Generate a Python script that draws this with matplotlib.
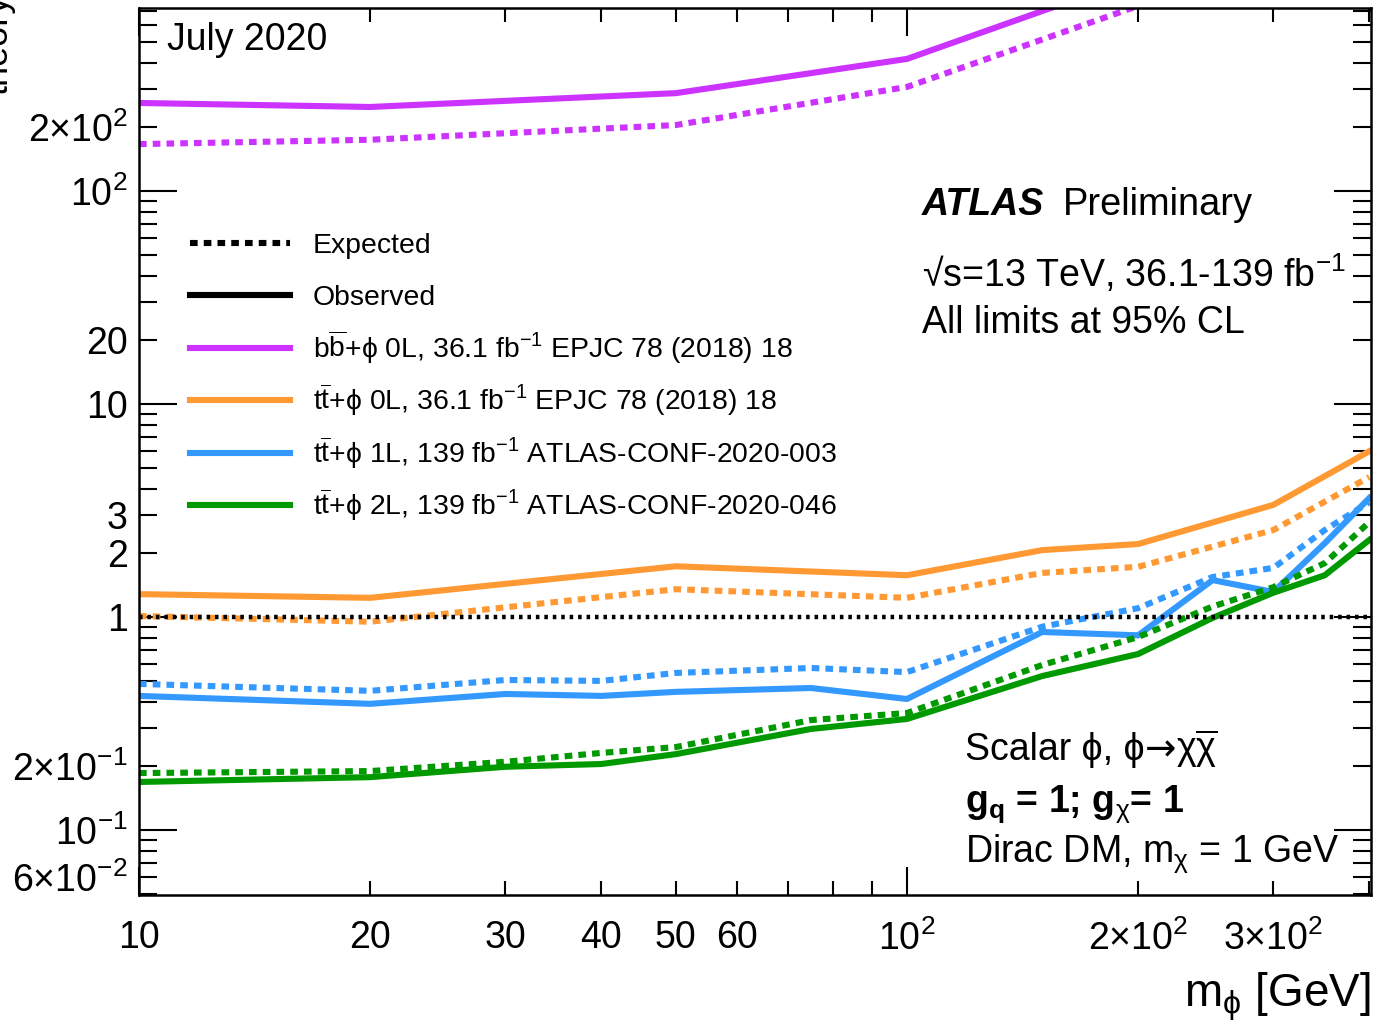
import matplotlib.pyplot as plt
from matplotlib.lines import Line2D
from matplotlib.ticker import FuncFormatter, LogLocator

plt.rcParams["font.family"] = ["Liberation Sans", "DejaVu Sans"]
plt.rcParams["mathtext.fontset"] = "custom"
plt.rcParams["mathtext.rm"] = "Liberation Sans"
plt.rcParams["mathtext.it"] = "Liberation Sans:italic"
plt.rcParams["mathtext.bf"] = "Liberation Sans:bold"

# bb+phi 0L (36.1 fb-1)
m_bb = [10, 20, 50, 100, 200, 300]
bb_obs = [259, 248, 288, 417, 1010, 2500]
bb_exp = [166, 174, 204, 308, 740, 1800]

# tt+phi 0L (36.1 fb-1)
m_tt0l = [10, 20, 50, 100, 150, 200, 300, 400]
tt0l_obs = [1.28, 1.23, 1.73, 1.57, 2.06, 2.20, 3.36, 6.0]
tt0l_exp = [1.01, 0.95, 1.35, 1.23, 1.61, 1.72, 2.56, 4.54]

# tt+phi 1L (139 fb-1)
m_tt1l = [10, 20, 30, 40, 50, 75, 100, 150, 200, 250, 300, 350, 400]
tt1l_obs = [0.426, 0.391, 0.435, 0.426, 0.445, 0.464, 0.412, 0.85, 0.82, 1.49, 1.31, 2.22, 3.62]
tt1l_exp = [0.485, 0.450, 0.506, 0.501, 0.546, 0.576, 0.551, 0.90, 1.10, 1.54, 1.70, 2.56, 3.46]

# tt+phi 2L (139 fb-1)
m_tt2l = [10, 20, 30, 40, 50, 75, 100, 150, 200, 250, 300, 350, 400]
tt2l_obs = [0.168, 0.177, 0.198, 0.204, 0.227, 0.298, 0.332, 0.528, 0.67, 0.99, 1.30, 1.57, 2.30]
tt2l_exp = [0.185, 0.189, 0.209, 0.230, 0.245, 0.328, 0.354, 0.595, 0.805, 1.12, 1.38, 1.79, 2.79]

PURPLE = "#cc33ff"
ORANGE = "#ff9933"
BLUE = "#3399ff"
GREEN = "#009900"

EXP_LS = (0, (1.25, 1.0))
LW = 4.4

legend_labels = [
    "Expected",
    "Observed",
    r"b$\overline{\mathrm{b}}$+ϕ 0L, 36.1 fb$^{-1}$ EPJC 78 (2018) 18",
    r"t$\overline{\mathrm{t}}$+ϕ 0L, 36.1 fb$^{-1}$ EPJC 78 (2018) 18",
    r"t$\overline{\mathrm{t}}$+ϕ 1L, 139 fb$^{-1}$ ATLAS-CONF-2020-003",
    r"t$\overline{\mathrm{t}}$+ϕ 2L, 139 fb$^{-1}$ ATLAS-CONF-2020-046",
]

y_labels = {
    0.06: r"$\mathrm{6{\times}10^{-2}}$",
    0.1: r"$\mathrm{10^{-1}}$",
    0.2: r"$\mathrm{2{\times}10^{-1}}$",
    1.0: "1",
    2.0: "2",
    3.0: "3",
    10.0: "10",
    20.0: "20",
    100.0: r"$\mathrm{10^{2}}$",
    200.0: r"$\mathrm{2{\times}10^{2}}$",
}
x_labels = {
    10.0: "10",
    20.0: "20",
    30.0: "30",
    40.0: "40",
    50.0: "50",
    60.0: "60",
    100.0: r"$\mathrm{10^{2}}$",
    200.0: r"$\mathrm{2{\times}10^{2}}$",
    300.0: r"$\mathrm{3{\times}10^{2}}$",
}


def pick(table):
    return FuncFormatter(lambda v, pos: table.get(float(f"{v:.3g}"), ""))


def text_after(fig, ax, prev, s, **kw):
    # place a text right after the end of another one, same baseline
    fig.canvas.draw()
    bb = prev.get_window_extent()
    x1 = ax.transAxes.inverted().transform((bb.x1, bb.y0))[0]
    _, y = prev.get_position()
    return ax.text(x1, y, s, transform=ax.transAxes, va="baseline", **kw)


def main() -> None:
    fig = plt.figure(figsize=(13.78, 10.29), dpi=100)
    ax = fig.add_axes([0.10087, 0.13022, 0.89405, 0.86200])
    ax.set_xscale("log")
    ax.set_yscale("log")
    ax.set_xlim(10, 402)
    ax.set_ylim(0.0495, 723)

    series = [
        (m_bb, bb_obs, bb_exp, PURPLE),
        (m_tt0l, tt0l_obs, tt0l_exp, ORANGE),
        (m_tt1l, tt1l_obs, tt1l_exp, BLUE),
        (m_tt2l, tt2l_obs, tt2l_exp, GREEN),
    ]
    for m, obs, exp, c in series:
        ax.plot(m, exp, color=c, lw=LW, ls=EXP_LS)
        ax.plot(m, obs, color=c, lw=LW)
    ax.axhline(1, color="black", lw=3.2, ls=(0, (0.8, 1.1)), zorder=5)

    # ROOT style axes
    for s in ax.spines.values():
        s.set_linewidth(1.8)
    ax.xaxis.set_major_locator(LogLocator(base=10))
    ax.xaxis.set_minor_locator(LogLocator(base=10, subs=range(2, 10)))
    ax.yaxis.set_major_locator(LogLocator(base=10))
    ax.yaxis.set_minor_locator(LogLocator(base=10, subs=range(2, 10), numticks=30))
    ax.xaxis.set_major_formatter(pick(x_labels))
    ax.xaxis.set_minor_formatter(pick(x_labels))
    ax.yaxis.set_major_formatter(pick(y_labels))
    ax.yaxis.set_minor_formatter(pick(y_labels))
    ax.tick_params(which="both", direction="in", top=True, right=True, width=1.5, labelsize=27)
    ax.xaxis.set_tick_params(which="major", length=20, pad=18)
    ax.xaxis.set_tick_params(which="minor", length=10, pad=18)
    ax.yaxis.set_tick_params(which="major", length=27, pad=8)
    ax.yaxis.set_tick_params(which="minor", length=13, pad=8)

    ax.text(1.0, -0.085, r"m$_{\mathrm{ϕ}}$ [GeV]", transform=ax.transAxes,
            ha="right", va="top", fontsize=33)
    fig.text(0.0112, 0.908, "theory", rotation=90, ha="right", va="bottom", fontsize=26)

    # legend drawn by hand
    colors = ["black", "black", PURPLE, ORANGE, BLUE, GREEN]
    styles = [EXP_LS, "-", "-", "-", "-", "-"]
    for i, (lab, c, ls) in enumerate(zip(legend_labels, colors, styles)):
        yrow = 1 - (243 + 52.4 * i - 8) / 887
        ax.add_line(Line2D([0.0414, 0.1226], [yrow, yrow], transform=ax.transAxes,
                           color=c, lw=LW, ls=ls))
        ax.text(0.1412, yrow - 10 / 887, lab, transform=ax.transAxes,
                ha="left", va="baseline", fontsize=20.4)

    ax.text(0.0227, 0.9527, "July 2020", transform=ax.transAxes, fontsize=27, va="baseline")
    ax.text(0.6356, 0.7666, "ATLAS", transform=ax.transAxes, fontsize=27,
            weight="bold", style="italic", va="baseline")
    ax.text(0.7500, 0.7666, "Preliminary", transform=ax.transAxes, fontsize=27.4, va="baseline")
    ax.text(0.6356, 0.6854, r"√s=13 TeV, 36.1-139 fb$^{-1}$",
            transform=ax.transAxes, fontsize=27, va="baseline")
    ax.text(0.6356, 0.6336, "All limits at 95% CL", transform=ax.transAxes,
            fontsize=27, va="baseline")

    t1 = ax.text(0.6705, 0.152, "Scalar ϕ, ϕ", transform=ax.transAxes,
                 fontsize=27, va="baseline")
    t2 = text_after(fig, ax, t1, "→", fontsize=27, family="DejaVu Sans")
    text_after(fig, ax, t2, r"χ$\overline{\mathrm{χ}}$", fontsize=27)
    ax.text(0.6705, 0.0936, r"$\mathbf{g_{q}}$ = 1; $\mathbf{g}_{\mathrm{χ}}$= 1",
            transform=ax.transAxes, fontsize=27, weight="bold", va="baseline")
    ax.text(0.6705, 0.0372, r"Dirac DM, m$_{\mathrm{χ}}$ = 1 GeV", transform=ax.transAxes,
            fontsize=27, va="baseline")

    fig.savefig("out.png", dpi=100)


if __name__ == "__main__":
    main()
